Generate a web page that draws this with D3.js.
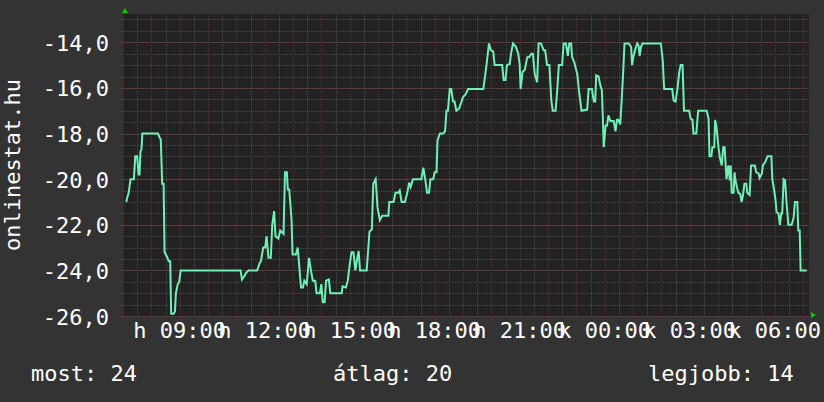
<!DOCTYPE html>
<html>
<head>
<meta charset="utf-8">
<script src="https://cdn.jsdelivr.net/npm/d3@7"></script>
<style>
  html, body { margin: 0; padding: 0; background: #333333; }
  svg { display: block; }
  text { font-family: "DejaVu Sans Mono", monospace; fill: #ffffff; }
</style>
</head>
<body>
<div id="chart"></div>
<script>
// minutes since monday 07:00, and the rank
const offsets = [
    7, 9, 12, 16, 23, 26, 30, 33, 35, 37, 39, 41, 74, 78, 80, 83, 86, 88, 93, 97,
    100, 102, 107, 110, 112, 116, 119, 122, 249, 252, 257, 261, 266, 284, 290, 292, 297, 301, 304, 308,
    313, 316, 320, 323, 329, 333, 340, 343, 347, 349, 352, 357, 359, 366, 370, 374, 377, 381, 384, 389,
    394, 398, 402, 407, 410, 417, 420, 423, 427, 430, 436, 439, 463, 465, 472, 476, 481, 484, 488, 492,
    495, 499, 502, 516, 522, 527, 530, 535, 539, 544, 549, 562, 564, 573, 577, 583, 586, 590, 597, 602,
    606, 609, 614, 632, 636, 640, 644, 648, 651, 657, 660, 664, 666, 671, 678, 682, 685, 688, 692, 695,
    699, 702, 706, 712, 717, 720, 725, 731, 763, 766, 770, 775, 779, 784, 787, 803, 806, 810, 813, 819,
    822, 826, 832, 837, 840, 842, 846, 851, 856, 860, 865, 868, 872, 877, 880, 885, 891, 894, 898, 903,
    907, 910, 916, 919, 923, 930, 933, 938, 942, 945, 949, 951, 956, 962, 966, 971, 983, 986, 993, 997,
    1000, 1002, 1007, 1011, 1014, 1016, 1018, 1022, 1025, 1028, 1032, 1039, 1043, 1046, 1049, 1053, 1056, 1059, 1062, 1071,
    1076, 1078, 1081, 1085, 1089, 1092, 1094, 1097, 1100, 1139, 1143, 1146, 1163, 1166, 1170, 1174, 1178, 1181, 1185, 1188,
    1199, 1202, 1206, 1208, 1214, 1218, 1236, 1240, 1242, 1246, 1248, 1252, 1254, 1257, 1261, 1264, 1268, 1271, 1274, 1278,
    1282, 1285, 1287, 1289, 1293, 1295, 1297, 1300, 1303, 1307, 1310, 1313, 1316, 1320, 1322, 1327, 1330, 1338, 1341, 1346,
    1348, 1353, 1355, 1360, 1365, 1373, 1375, 1379, 1382, 1384, 1388, 1391, 1394, 1396, 1399, 1402, 1405, 1409, 1416, 1420,
    1423, 1428, 1430, 1433, 1435, 1448
]
const ranks = [
    -21.0, -20.8, -20.6, -20.0, -20.0, -19.0, -19.0, -19.8, -19.8, -18.8, -18.7, -18.0, -18.0, -18.2, -18.25, -20.2, -20.2, -23.2, -23.4, -23.6,
    -23.6, -25.9, -25.9, -25.8, -25.0, -24.6, -24.5, -24.0, -24.0, -24.4, -24.25, -24.1, -24.0, -24.0, -23.65, -23.6, -23.0, -23.0, -22.5, -23.45,
    -23.45, -22.0, -21.4, -22.5, -22.6, -22.25, -22.4, -19.7, -19.7, -20.45, -20.45, -21.8, -23.3, -23.3, -23.0, -24.0, -24.75, -24.75, -24.45, -24.6,
    -23.45, -24.0, -24.45, -24.45, -25.0, -25.0, -24.6, -25.4, -25.4, -24.45, -24.4, -25.0, -25.0, -24.7, -24.75, -24.45, -23.6, -23.2, -23.2, -24.0,
    -23.6, -23.15, -24.0, -24.0, -22.3, -22.2, -20.2, -20.0, -21.25, -21.8, -21.6, -21.6, -21.0, -21.0, -20.6, -20.6, -20.5, -21.0, -21.0, -20.6,
    -20.15, -20.35, -20.0, -20.0, -19.5, -20.0, -20.6, -20.6, -20.0, -20.0, -19.7, -19.7, -18.3, -18.0, -18.0, -17.9, -17.0, -17.0, -16.05, -16.05,
    -16.6, -16.6, -17.0, -16.9, -16.6, -16.4, -16.3, -16.05, -16.05, -15.6, -14.95, -14.05, -14.35, -14.4, -15.0, -15.0, -15.65, -15.65, -15.0, -14.95,
    -14.45, -14.05, -14.2, -14.5, -14.95, -16.05, -15.3, -15.2, -14.65, -14.65, -14.5, -14.5, -15.4, -15.75, -14.05, -14.05, -14.35, -14.35, -15.0, -15.0,
    -16.55, -17.0, -17.0, -16.25, -15.0, -15.0, -14.05, -14.05, -14.6, -14.05, -14.05, -14.65, -14.9, -15.4, -16.2, -17.0, -16.95, -16.05, -16.05, -16.6,
    -16.6, -15.45, -15.5, -15.9, -16.1, -17.2, -18.6, -17.65, -17.65, -17.2, -17.45, -17.45, -17.9, -17.4, -17.4, -17.6, -16.55, -15.4, -14.05, -14.05,
    -14.2, -15.0, -14.6, -14.3, -14.05, -14.15, -14.6, -14.2, -14.05, -14.05, -14.8, -16.05, -16.05, -16.55, -16.6, -16.05, -15.3, -15.0, -15.0, -17.0,
    -17.0, -17.35, -17.4, -18.0, -18.0, -17.0, -17.0, -17.35, -19.0, -19.0, -18.6, -18.6, -17.4, -17.75, -18.6, -19.05, -19.4, -18.6, -18.6, -20.0,
    -19.4, -20.05, -19.4, -20.6, -20.6, -19.7, -20.05, -20.35, -20.6, -20.65, -21.0, -20.7, -20.2, -20.2, -20.6, -20.7, -19.4, -19.4, -19.7, -19.75,
    -19.95, -19.75, -19.4, -19.25, -19.0, -19.0, -20.0, -20.5, -20.95, -21.45, -21.5, -22.0, -21.5, -21.5, -20.0, -20.05, -21.0, -22.0, -22.0, -21.7,
    -21.0, -21.0, -22.25, -22.25, -24.0, -24.0
]

const yTicks = [-14, -16, -18, -20, -22, -24, -26]
const dayAbbr = ['v', 'h', 'k', 'sze', 'cs', 'p', 'szo']
const yTitle = 'onlinestat.hu'
const legendNames = ['most', 'átlag', 'legjobb']
const legendValues = [24, 20, 14]

const width = 824, height = 402
const plot = {left: 123, right: 809, top: 14, bottom: 316}
const start = new Date(2013, 0, 7, 7, 0)   // a monday
const addMin = (m) => new Date(start.getTime() + m * 60000)

const data = offsets.map((m, i) => ({t: addMin(m), v: ranks[i]}))

const x = d3.scaleTime()
    .domain([start, addMin(1440)])
    .range([plot.left, plot.left + 680])
const y = d3.scaleLinear()
    .domain([-26, -14])
    .range([plot.bottom, 42.3])

const hu = d3.formatLocale({decimal: ",", thousands: " ", grouping: [3], currency: ["", ""], minus: "-"})
const fmtY = hu.format(".1f")
const fmtHour = d3.timeFormat("%H:%M")
const fmtX = (d) => `${dayAbbr[d.getDay()]} ${fmtHour(d)}`

const crisp = (v) => Math.round(v) + 0.5

const svg = d3.select("#chart")
    .append("svg")
    .attr("width", width)
    .attr("height", height)

svg.append("rect")
    .attr("width", width)
    .attr("height", height)
    .attr("fill", "#333333")

svg.append("rect")
    .attr("x", plot.left)
    .attr("y", plot.top)
    .attr("width", plot.right - plot.left)
    .attr("height", plot.bottom - plot.top)
    .attr("fill", "#222222")

const tEnd = x.invert(plot.right)
const yTop = y.invert(plot.top)

// minor grid
const minorX = d3.timeMinute.every(30).range(start, tEnd)
const minorY = d3.range(-26, yTop, 0.5)
const grid = svg.append("g")
    .attr("stroke-dasharray", "1,1")
    .attr("stroke-width", 1)
    .attr("shape-rendering", "crispEdges")

grid.selectAll(".vminor")
    .data(minorX)
    .enter()
    .append("line")
    .attr("x1", d => crisp(x(d)))
    .attr("x2", d => crisp(x(d)))
    .attr("y1", plot.top)
    .attr("y2", plot.bottom + 2)
    .attr("stroke", "#4a4a4a")

grid.selectAll(".hminor")
    .data(minorY)
    .enter()
    .append("line")
    .attr("x1", plot.left - 2)
    .attr("x2", plot.right)
    .attr("y1", d => crisp(y(d)))
    .attr("y2", d => crisp(y(d)))
    .attr("stroke", "#4a4a4a")

// major grid, reddish
const majorX = d3.timeHour.every(1).range(start, tEnd)
grid.selectAll(".vmajor")
    .data(majorX)
    .enter()
    .append("line")
    .attr("x1", d => crisp(x(d)))
    .attr("x2", d => crisp(x(d)))
    .attr("y1", plot.top)
    .attr("y2", plot.bottom + 3)
    .attr("stroke", "#5e3232")

grid.selectAll(".hmajor")
    .data(yTicks)
    .enter()
    .append("line")
    .attr("x1", plot.left - 3)
    .attr("x2", plot.right)
    .attr("y1", d => crisp(y(d)))
    .attr("y2", d => crisp(y(d)))
    .attr("stroke", "#5e3232")

// arrows at the axis ends
svg.append("path")
    .attr("d", `M${plot.left - 1},${plot.top - 1}L${plot.left + 2},${plot.top - 6}L${plot.left + 5},${plot.top - 1}Z`)
    .attr("fill", "#00cc00")
svg.append("path")
    .attr("d", `M${plot.right + 2},${plot.bottom - 4}L${plot.right + 7},${plot.bottom - 1}L${plot.right + 2},${plot.bottom + 2}Z`)
    .attr("fill", "#00cc00")

// the series
const line = d3.line()
    .x(d => x(d.t))
    .y(d => y(d.v))

svg.append("path")
    .datum(data)
    .attr("d", line)
    .attr("fill", "none")
    .attr("stroke", "#6ff0b6")
    .attr("stroke-width", 2)
    .attr("stroke-linejoin", "miter")

// y labels
svg.selectAll(".ylab")
    .data(yTicks)
    .enter()
    .append("text")
    .attr("x", 109)
    .attr("y", d => y(d) + 8.5)
    .attr("text-anchor", "end")
    .attr("font-size", 22)
    .text(d => fmtY(d))

// x labels every three hours
const labelX = d3.timeHour.every(3).range(start, tEnd).filter(d => x(d) > plot.left + 20)
svg.selectAll(".xlab")
    .data(labelX)
    .enter()
    .append("text")
    .attr("x", d => x(d))
    .attr("y", 338)
    .attr("text-anchor", "middle")
    .attr("font-size", 22)
    .text(d => fmtX(d))

svg.append("text")
    .attr("transform", "translate(20,165) rotate(-90)")
    .attr("text-anchor", "middle")
    .attr("font-size", 22)
    .text(yTitle)

// bottom legend
const legendX = [31, 333, 648]
svg.selectAll(".legend")
    .data(legendNames)
    .enter()
    .append("text")
    .attr("x", (d, i) => legendX[i])
    .attr("y", 381)
    .attr("font-size", 22)
    .text((d, i) => `${d}: ${legendValues[i]}`)
</script>
</body>
</html>
